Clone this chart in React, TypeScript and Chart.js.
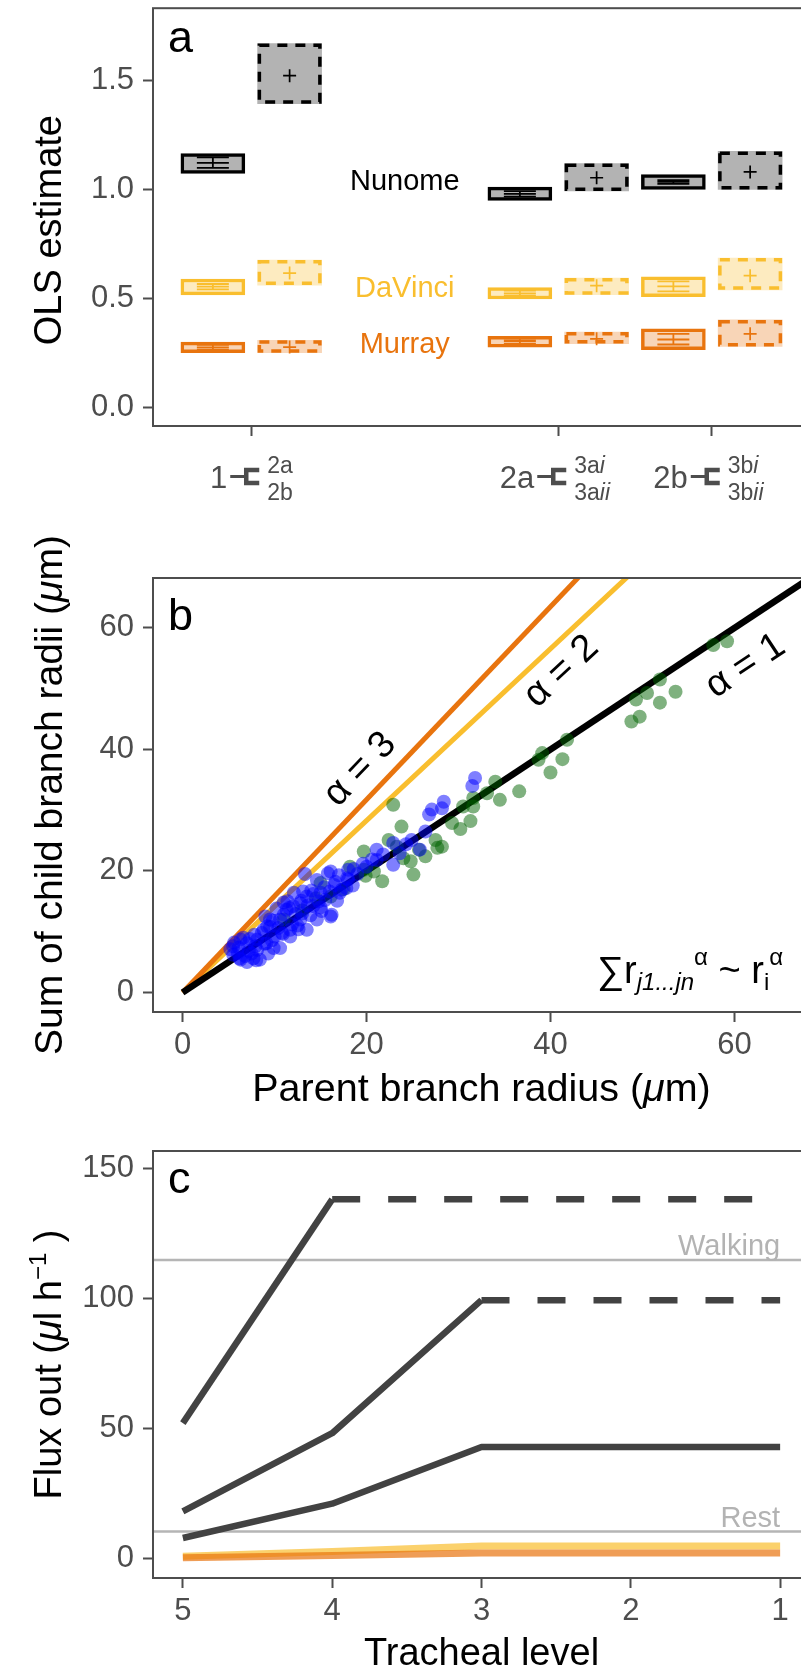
import React, { useEffect, useRef } from 'react';
import { Chart, registerables } from 'chart.js';

Chart.register(...registerables);

const FONT = "'Liberation Sans', Arial, Helvetica, sans-serif";
const TICK_COLOR = '#4D4D4D';
const FRAME_COLOR = '#4D4D4D';
const TICK_SIZE = 31;
const TITLE_SIZE = 38;
const LETTER_SIZE = 45;

// ---------------- Panel a ----------------
const aCategories = [1, 3, 4];
const aYTicks = [0, 0.5, 1.0, 1.5];
const aTickMain = ['1', '2a', '2b'];
const aTickUpper = [['2a', ''], ['3a', 'i'], ['3b', 'i']];
const aTickLower = [['2b', ''], ['3a', 'ii'], ['3b', 'ii']];

const methodNames = ['Nunome', 'DaVinci', 'Murray'];
const methodColors = ['#000000', '#F9BE2E', '#E8740E'];
const methodFills = ['#B3B3B3', '#FDEBC0', '#F8D5B7'];
const methodLabelX = 2;
const methodLabelY = [1.045, 0.555, 0.296];

const nunomeSolidLo = [1.075, 0.951, 1.001];
const nunomeSolidHi = [1.166, 1.012, 1.070];
const nunomeSolidEst = [1.123, 0.981, 1.036];
const nunomeCiLo = [1.100, 0.968, 1.027];
const nunomeCiHi = [1.149, 0.994, 1.044];
const nunomeDashLo = [1.395, 0.994, 1.001];
const nunomeDashHi = [1.672, 1.120, 1.176];
const nunomeDashEst = [1.524, 1.055, 1.082];

const daVinciSolidLo = [0.517, 0.498, 0.509];
const daVinciSolidHi = [0.590, 0.551, 0.600];
const daVinciSolidEst = [0.555, 0.524, 0.556];
const daVinciCiLo = [0.542, 0.513, 0.533];
const daVinciCiHi = [0.567, 0.536, 0.579];
const daVinciDashLo = [0.562, 0.518, 0.540];
const daVinciDashHi = [0.677, 0.594, 0.686];
const daVinciDashEst = [0.617, 0.559, 0.605];

const murraySolidLo = [0.251, 0.277, 0.265];
const murraySolidHi = [0.300, 0.326, 0.361];
const murraySolidEst = [0.276, 0.305, 0.312];
const murrayCiLo = [0.265, 0.293, 0.289];
const murrayCiHi = [0.287, 0.316, 0.338];
const murrayDashLo = [0.251, 0.293, 0.280];
const murrayDashHi = [0.308, 0.346, 0.402];
const murrayDashEst = [0.277, 0.315, 0.338];

// ---------------- Panel b ----------------
const bTicks = [0, 20, 40, 60];
const bGreenX = [57.7, 59.2, 51.9, 50.5, 49.3, 53.6, 51.9, 49.7, 48.8, 41.8, 39.1, 38.7, 41.3, 40.0, 36.6, 34.0, 34.5, 33.1, 31.6, 30.5, 31.3, 30.2, 29.3, 22.9, 23.8, 19.7, 22.4, 23.3, 24.0, 21.7, 25.1, 25.7, 26.4, 27.5, 27.7, 24.8, 31.6, 15.0, 16.1, 20.8, 19.7, 18.2, 19.9, 28.2, 14.5, 13.0, 17.5, 11.0];
const bGreenY = [57.2, 57.8, 51.5, 49.3, 48.2, 49.5, 47.7, 45.4, 44.6, 41.6, 39.4, 38.3, 38.4, 36.2, 33.1, 34.7, 31.7, 32.8, 30.6, 30.6, 28.2, 26.9, 27.9, 30.9, 27.3, 23.2, 25.1, 24.0, 22.1, 18.3, 19.4, 23.5, 22.4, 25.1, 23.8, 21.6, 32.0, 18.0, 15.8, 19.9, 20.2, 20.7, 19.2, 24.0, 15.5, 13.5, 17.0, 12.0];
const bBlueX = [31.8, 31.5, 28.4, 28.2, 27.1, 26.8, 26.4, 24.9, 25.8, 22.9, 21.1, 22.9, 21.1, 20.0, 18.0, 16.1, 13.3, 16.5, 18.0, 17.1, 15.0, 13.5, 12.1, 14.2, 16.1, 15.0, 12.8, 11.3, 10.6, 12.8, 11.7, 9.5, 8.8, 10.0, 8.1, 7.0, 6.3, 5.5, 5.5, 6.3, 7.7, 8.1, 9.9, 10.6, 9.1, 11.7, 13.5, 14.6, 16.2, 8.4, 5.2, 6.0, 7.2, 9.5, 12.5, 14.0, 15.5, 17.8, 19.0, 10.8, 7.8, 11.0, 13.0,
  5.6, 6.1, 6.6, 7.3, 7.9, 8.6, 9.2, 9.8, 10.4, 11.0, 11.6, 12.3, 12.9, 13.6, 14.2, 14.8, 15.4, 16.0, 16.6, 17.3, 17.9, 18.5, 6.8, 7.5, 8.9, 9.7, 10.9, 11.9, 12.6, 13.9, 15.1, 16.8, 9.0, 10.2, 11.4, 12.0, 13.1, 14.6, 15.8, 17.0, 18.6, 19.6, 20.6, 21.8, 23.6, 24.3, 6.2, 7.0, 8.0, 9.3];
const bBlueY = [35.3, 34.0, 31.4, 30.3, 30.1, 29.3, 26.5, 25.1, 23.5, 24.6, 23.5, 21.0, 21.8, 20.7, 20.2, 19.9, 19.5, 17.7, 18.6, 16.4, 16.4, 15.8, 16.4, 14.2, 12.5, 14.0, 14.7, 13.6, 12.0, 12.0, 10.3, 12.0, 10.3, 9.2, 8.7, 8.1, 8.7, 7.6, 6.2, 5.4, 5.6, 7.0, 7.3, 7.3, 8.1, 9.2, 10.3, 12.0, 12.8, 5.4, 7.1, 6.5, 6.8, 10.8, 11.0, 16.8, 15.2, 17.2, 19.5, 9.8, 9.5, 14.8, 13.0,
  8.2, 7.4, 9.0, 8.8, 7.6, 9.8, 10.9, 11.8, 10.6, 12.8, 13.9, 12.9, 15.1, 14.3, 16.2, 15.0, 17.3, 16.6, 18.2, 16.9, 18.8, 17.6, 6.0, 6.4, 8.0, 8.6, 9.6, 11.2, 10.4, 12.7, 13.4, 15.1, 12.5, 13.8, 15.0, 14.2, 16.6, 18.5, 19.6, 19.3, 20.3, 21.2, 21.9, 22.7, 22.9, 24.4, 5.6, 5.0, 5.3, 6.4];
const bAlphas = [1, 2, 3];
const bAlphaColors = ['#000000', '#F9BE2E', '#E8740E'];
const bAlphaWidths = [6.5, 5, 5];
const bLineXEnd = 75;
const bAlphaLabelX = [61.2, 41.2, 19.3];
const bAlphaLabelY = [53.7, 52.8, 36.7];

// ---------------- Panel c ----------------
const cLevels = [5, 4, 3, 2, 1];
const cFluxHigh = [52.2, 138.3, 138.3, 138.3, 138.3];
const cFluxMid = [18.2, 48.3, 99.5, 99.5, 99.5];
const cFluxLow = [8.0, 21.2, 43.0, 43.0, 43.0];
const cFluxDaVinci = [1.0, 2.8, 4.9, 4.9, 4.9];
const cFluxMurray = [0.4, 1.3, 2.2, 2.2, 2.2];
const cDashFrom = [1, 2, -1];
const cYTicks = [0, 50, 100, 150];
const cRefValues = [115, 10.5];
const cRefLabels = ['Walking', 'Rest'];
const cRefLabelX = 1;

// ---------------- helpers ----------------
type Part = { t: string; size: number; italic?: boolean; dy?: number };

function setFont(ctx: CanvasRenderingContext2D, size: number, italic = false) {
  ctx.font = `${italic ? 'italic ' : ''}${size}px ${FONT}`;
}
function partsWidth(ctx: CanvasRenderingContext2D, parts: Part[]) {
  let w = 0;
  for (const p of parts) {
    setFont(ctx, p.size, p.italic);
    w += ctx.measureText(p.t).width;
  }
  return w;
}
function drawParts(ctx: CanvasRenderingContext2D, parts: Part[], x: number, y: number, align: 'left' | 'center' | 'right') {
  const w = partsWidth(ctx, parts);
  let cx = align === 'center' ? x - w / 2 : align === 'right' ? x - w : x;
  ctx.textAlign = 'left';
  ctx.textBaseline = 'alphabetic';
  for (const p of parts) {
    setFont(ctx, p.size, p.italic);
    ctx.fillText(p.t, cx, y + (p.dy || 0));
    cx += ctx.measureText(p.t).width;
  }
}
function drawYTitle(ctx: CanvasRenderingContext2D, parts: Part[], x: number, yCenter: number) {
  ctx.save();
  ctx.translate(x, yCenter);
  ctx.rotate(-Math.PI / 2);
  ctx.fillStyle = '#000';
  drawParts(ctx, parts, 0, 0, 'center');
  ctx.restore();
}
function drawFrame(chart: any) {
  const { ctx, chartArea: a } = chart;
  ctx.save();
  ctx.strokeStyle = FRAME_COLOR;
  ctx.lineWidth = 2;
  ctx.setLineDash([]);
  ctx.strokeRect(a.left, a.top, a.right - a.left, a.bottom - a.top);
  ctx.restore();
}
function drawLetter(chart: any, letter: string, dx: number, dy: number) {
  const { ctx, chartArea: a } = chart;
  ctx.save();
  ctx.fillStyle = '#000';
  setFont(ctx, LETTER_SIZE);
  ctx.textAlign = 'left';
  ctx.textBaseline = 'alphabetic';
  ctx.fillText(letter, a.left + dx, a.top + dy);
  ctx.restore();
}

function axis(min: number, max: number, values: number[], size: number, isY: boolean, opts: any = {}) {
  return {
    type: 'linear',
    min,
    max,
    reverse: !!opts.reverse,
    offset: false,
    grid: {
      display: true,
      drawOnChartArea: false,
      drawTicks: true,
      tickLength: 10,
      tickWidth: 2,
      tickColor: FRAME_COLOR,
      color: FRAME_COLOR,
      offset: false,
    },
    border: { display: false },
    ticks: {
      display: opts.showLabels !== false,
      color: TICK_COLOR,
      font: { family: FONT, size: TICK_SIZE },
      padding: isY ? 9 : 5,
      autoSkip: false,
      maxRotation: 0,
      minRotation: 0,
      callback: opts.fmt || ((v: number) => String(v)),
    },
    afterBuildTicks: (sc: any) => {
      sc.ticks = values.map((v) => ({ value: v }));
    },
    afterFit: (sc: any) => {
      if (isY) sc.width = size;
      else sc.height = size;
      sc.paddingTop = 0;
      sc.paddingBottom = 0;
      sc.paddingLeft = 0;
      sc.paddingRight = 0;
    },
  };
}

const baseOptions = {
  responsive: false,
  animation: false as const,
  devicePixelRatio: 1,
  events: [] as any[],
};

// ---------------- Panel a ----------------
function makePanelA(canvas: HTMLCanvasElement) {
  const dodge = 0.25;
  const solid = [
    { lo: nunomeSolidLo, hi: nunomeSolidHi, est: nunomeSolidEst, ciLo: nunomeCiLo, ciHi: nunomeCiHi },
    { lo: daVinciSolidLo, hi: daVinciSolidHi, est: daVinciSolidEst, ciLo: daVinciCiLo, ciHi: daVinciCiHi },
    { lo: murraySolidLo, hi: murraySolidHi, est: murraySolidEst, ciLo: murrayCiLo, ciHi: murrayCiHi },
  ];
  const dashed = [
    { lo: nunomeDashLo, hi: nunomeDashHi, est: nunomeDashEst },
    { lo: daVinciDashLo, hi: daVinciDashHi, est: daVinciDashEst },
    { lo: murrayDashLo, hi: murrayDashHi, est: murrayDashEst },
  ];
  const datasets: any[] = [];
  solid.forEach((s, m) =>
    datasets.push({
      type: 'bar',
      data: aCategories.map((c, j) => ({ x: c - dodge, y: [s.lo[j], s.hi[j]] })),
      backgroundColor: methodFills[m],
      borderColor: methodColors[m],
      borderWidth: 3.5,
      borderSkipped: false,
      barThickness: 64,
      grouped: false,
      order: 3,
    })
  );
  dashed.forEach((s, m) =>
    datasets.push({
      type: 'bar',
      data: aCategories.map((c, j) => ({ x: c + dodge, y: [s.lo[j], s.hi[j]] })),
      backgroundColor: methodFills[m],
      borderWidth: 0,
      borderSkipped: false,
      barThickness: 64,
      grouped: false,
      order: 3,
      dashedBorder: methodColors[m],
    })
  );
  dashed.forEach((s, m) =>
    datasets.push({
      type: 'scatter',
      data: aCategories.map((c, j) => ({ x: c + dodge, y: s.est[j] })),
      pointStyle: 'cross',
      pointRadius: 6.5,
      borderColor: methodColors[m],
      borderWidth: 1.7,
      order: 0,
    })
  );

  const plugin = {
    id: 'panelA',
    afterDatasetsDraw(chart: any) {
      const { ctx, scales: { x, y } } = chart;
      chart.data.datasets.forEach((ds: any, i: number) => {
        if (!ds.dashedBorder) return;
        const meta = chart.getDatasetMeta(i);
        meta.data.forEach((el: any) => {
          const p = el.getProps(['x', 'y', 'base', 'width'], true);
          const lw = 3.5;
          const top = Math.min(p.y, p.base);
          const bot = Math.max(p.y, p.base);
          ctx.save();
          ctx.strokeStyle = ds.dashedBorder;
          ctx.lineWidth = lw;
          ctx.setLineDash([10, 8]);
          ctx.strokeRect(p.x - p.width / 2 + lw / 2, top + lw / 2, p.width - lw, bot - top - lw);
          ctx.restore();
        });
      });
      solid.forEach((s, m) => {
        aCategories.forEach((c, j) => {
          const cx = x.getPixelForValue(c - dodge);
          const yl = y.getPixelForValue(s.ciLo[j]);
          const yh = y.getPixelForValue(s.ciHi[j]);
          const ye = y.getPixelForValue(s.est[j]);
          ctx.save();
          ctx.strokeStyle = methodColors[m];
          ctx.lineWidth = 1.8;
          ctx.beginPath();
          ctx.moveTo(cx, yl);
          ctx.lineTo(cx, yh);
          for (const yy of [yl, yh, ye]) {
            ctx.moveTo(cx - 16, yy);
            ctx.lineTo(cx + 16, yy);
          }
          ctx.stroke();
          ctx.restore();
        });
      });
    },
    afterDraw(chart: any) {
      const { ctx, chartArea: a, scales: { x, y } } = chart;
      drawFrame(chart);
      methodNames.forEach((name, m) => {
        ctx.save();
        ctx.fillStyle = methodColors[m];
        setFont(ctx, 29);
        ctx.textAlign = 'center';
        ctx.textBaseline = 'alphabetic';
        ctx.fillText(name, x.getPixelForValue(methodLabelX), y.getPixelForValue(methodLabelY[m]) + 0.36 * 29);
        ctx.restore();
      });
      aCategories.forEach((c, i) => {
        const tx = x.getPixelForValue(c);
        const b = a.bottom;
        ctx.save();
        ctx.fillStyle = TICK_COLOR;
        ctx.strokeStyle = TICK_COLOR;
        setFont(ctx, TICK_SIZE);
        ctx.textAlign = 'right';
        ctx.textBaseline = 'alphabetic';
        ctx.fillText(aTickMain[i], tx - 24, b + 62);
        ctx.lineWidth = 3;
        ctx.beginPath();
        ctx.moveTo(tx - 21, b + 50.5);
        ctx.lineTo(tx - 5, b + 50.5);
        ctx.stroke();
        ctx.lineWidth = 4.5;
        ctx.beginPath();
        ctx.moveTo(tx + 8, b + 44);
        ctx.lineTo(tx - 5, b + 44);
        ctx.lineTo(tx - 5, b + 57);
        ctx.lineTo(tx + 8, b + 57);
        ctx.stroke();
        drawParts(ctx, [{ t: aTickUpper[i][0], size: 23 }, { t: aTickUpper[i][1], size: 23, italic: true }], tx + 16, b + 47, 'left');
        drawParts(ctx, [{ t: aTickLower[i][0], size: 23 }, { t: aTickLower[i][1], size: 23, italic: true }], tx + 16, b + 74, 'left');
        ctx.restore();
      });
      drawYTitle(ctx, [{ t: 'OLS estimate', size: TITLE_SIZE }], 61, (a.top + a.bottom) / 2 + 13);
      drawLetter(chart, 'a', 15, 44);
    },
  };

  return new Chart(canvas, {
    type: 'bar',
    data: { datasets },
    options: {
      ...baseOptions,
      layout: { padding: { top: 6, left: 0, right: 20, bottom: 0 } },
      plugins: { legend: { display: false }, tooltip: { enabled: false } },
      scales: {
        x: axis(0.36, 4.64, aCategories, 114, false, { showLabels: false }),
        y: axis(-0.0855, 1.834, aYTicks, 153, true, { fmt: (v: number) => Number(v).toFixed(1) }),
      },
    } as any,
    plugins: [plugin],
  } as any);
}

// ---------------- Panel b ----------------
function makePanelB(canvas: HTMLCanvasElement) {
  const datasets: any[] = [
    {
      type: 'scatter',
      data: bBlueX.map((v, i) => ({ x: v, y: bBlueY[i] })),
      backgroundColor: 'rgba(0,0,255,0.5)',
      borderWidth: 0,
      pointRadius: 7,
      order: 0,
    },
    {
      type: 'scatter',
      data: bGreenX.map((v, i) => ({ x: v, y: bGreenY[i] })),
      backgroundColor: 'rgba(0,100,0,0.5)',
      borderWidth: 0,
      pointRadius: 7,
      order: 1,
    },
  ];
  bAlphas.forEach((al, i) => {
    const ratio = Math.pow(2, 1 - 1 / al);
    datasets.push({
      type: 'line',
      data: [
        { x: 0, y: 0 },
        { x: bLineXEnd, y: bLineXEnd * ratio },
      ],
      borderColor: bAlphaColors[i],
      borderWidth: bAlphaWidths[i],
      pointRadius: 0,
      fill: false,
      clip: 0,
      borderCapStyle: 'butt',
      order: [2, 4, 3][i],
    });
  });

  const plugin = {
    id: 'panelB',
    afterDraw(chart: any) {
      const { ctx, chartArea: a, scales: { x, y } } = chart;
      drawFrame(chart);
      bAlphas.forEach((al, i) => {
        const ratio = Math.pow(2, 1 - 1 / al);
        const x0 = x.getPixelForValue(0);
        const y0 = y.getPixelForValue(0);
        const x1 = x.getPixelForValue(10);
        const y1 = y.getPixelForValue(10 * ratio);
        const ang = Math.atan2(y1 - y0, x1 - x0);
        ctx.save();
        ctx.translate(x.getPixelForValue(bAlphaLabelX[i]), y.getPixelForValue(bAlphaLabelY[i]));
        ctx.rotate(ang);
        ctx.fillStyle = '#000';
        setFont(ctx, TITLE_SIZE);
        ctx.textAlign = 'center';
        ctx.textBaseline = 'middle';
        ctx.fillText(`\u03b1 = ${al}`, 0, 0);
        ctx.restore();
      });
      ctx.save();
      ctx.fillStyle = '#000';
      drawParts(
        ctx,
        [
          { t: '\u2211', size: 38 },
          { t: 'r', size: 38 },
          { t: 'j1...jn', size: 24, italic: true, dy: 7 },
          { t: '\u03b1', size: 24, dy: -18 },
          { t: ' ~ ', size: 38 },
          { t: 'r', size: 38 },
          { t: 'i', size: 24, dy: 7 },
          { t: '\u03b1', size: 24, dy: -18 },
        ],
        a.left + 444,
        a.bottom - 29,
        'left'
      );
      ctx.restore();
      drawYTitle(
        ctx,
        [
          { t: 'Sum of child branch radii (', size: 39 },
          { t: '\u03bc', size: 39, italic: true },
          { t: 'm)', size: 39 },
        ],
        62,
        (a.top + a.bottom) / 2
      );
      ctx.save();
      ctx.fillStyle = '#000';
      drawParts(
        ctx,
        [
          { t: 'Parent branch radius (', size: 39.5 },
          { t: '\u03bc', size: 39.5, italic: true },
          { t: 'm)', size: 39.5 },
        ],
        (a.left + a.right) / 2,
        a.bottom + 89,
        'center'
      );
      ctx.restore();
      drawLetter(chart, 'b', 15, 52);
    },
  };

  return new Chart(canvas, {
    type: 'scatter',
    data: { datasets },
    options: {
      ...baseOptions,
      layout: { padding: { top: 58, left: 0, right: 20, bottom: 0 } },
      plugins: { legend: { display: false }, tooltip: { enabled: false } },
      scales: {
        x: axis(-3.22, 68.22, bTicks, 108, false),
        y: axis(-3.22, 68.22, bTicks, 153, true),
      },
    } as any,
    plugins: [plugin],
  } as any);
}

// ---------------- Panel c ----------------
function makePanelC(canvas: HTMLCanvasElement) {
  const blacks = [cFluxHigh, cFluxMid, cFluxLow];
  const datasets: any[] = [];
  blacks.forEach((vals, k) => {
    const from = cDashFrom[k];
    datasets.push({
      type: 'line',
      data: cLevels.map((l, i) => ({ x: l, y: vals[i] })),
      borderColor: '#424242',
      borderWidth: 6.5,
      pointRadius: 0,
      fill: false,
      tension: 0,
      borderJoinStyle: 'round',
      borderCapStyle: 'butt',
      segment: {
        borderDash: (sc: any) => (from >= 0 && sc.p0DataIndex >= from ? [28, 28] : undefined),
      },
      order: 2,
    });
  });
  datasets.push({
    type: 'line',
    data: cLevels.map((l, i) => ({ x: l, y: cFluxMurray[i] })),
    borderColor: 'rgba(232,116,14,0.7)',
    borderWidth: 7,
    pointRadius: 0,
    fill: false,
    borderJoinStyle: 'round',
    order: 3,
  });
  datasets.push({
    type: 'line',
    data: cLevels.map((l, i) => ({ x: l, y: cFluxDaVinci[i] })),
    borderColor: 'rgba(249,190,46,0.7)',
    borderWidth: 7,
    pointRadius: 0,
    fill: false,
    borderJoinStyle: 'round',
    order: 4,
  });

  const plugin = {
    id: 'panelC',
    beforeDatasetsDraw(chart: any) {
      const { ctx, chartArea: a, scales: { y } } = chart;
      ctx.save();
      ctx.strokeStyle = '#B5B5B5';
      ctx.lineWidth = 2.5;
      cRefValues.forEach((v) => {
        const py = y.getPixelForValue(v);
        ctx.beginPath();
        ctx.moveTo(a.left, py);
        ctx.lineTo(a.right, py);
        ctx.stroke();
      });
      ctx.restore();
    },
    afterDraw(chart: any) {
      const { ctx, chartArea: a, scales: { x, y } } = chart;
      drawFrame(chart);
      ctx.save();
      ctx.fillStyle = '#B3B3B3';
      setFont(ctx, 29);
      ctx.textAlign = 'right';
      ctx.textBaseline = 'alphabetic';
      cRefValues.forEach((v, i) => {
        ctx.fillText(cRefLabels[i], x.getPixelForValue(cRefLabelX), y.getPixelForValue(v) - 4.5);
      });
      ctx.restore();
      drawYTitle(
        ctx,
        [
          { t: 'Flux out (', size: TITLE_SIZE },
          { t: '\u03bc', size: TITLE_SIZE, italic: true },
          { t: 'l h', size: TITLE_SIZE },
          { t: '\u22121', size: 24, dy: -15 },
          { t: ' )', size: TITLE_SIZE },
        ],
        61,
        (a.top + a.bottom) / 2
      );
      ctx.save();
      ctx.fillStyle = '#000';
      drawParts(ctx, [{ t: 'Tracheal level', size: TITLE_SIZE }], (a.left + a.right) / 2, a.bottom + 87, 'center');
      ctx.restore();
      drawLetter(chart, 'c', 15, 42);
    },
  };

  return new Chart(canvas, {
    type: 'line',
    data: { datasets },
    options: {
      ...baseOptions,
      layout: { padding: { top: 41, left: 0, right: 20, bottom: 0 } },
      plugins: { legend: { display: false }, tooltip: { enabled: false } },
      scales: {
        x: axis(0.8, 5.2, cLevels, 102, false, { reverse: true }),
        y: axis(-7.4, 156.9, cYTicks, 153, true),
      },
    } as any,
    plugins: [plugin],
  } as any);
}

export default function App() {
  const refA = useRef<HTMLCanvasElement>(null);
  const refB = useRef<HTMLCanvasElement>(null);
  const refC = useRef<HTMLCanvasElement>(null);

  useEffect(() => {
    const charts = [makePanelA(refA.current!), makePanelB(refB.current!), makePanelC(refC.current!)];
    return () => charts.forEach((c) => c.destroy());
  }, []);

  return (
    <div
      style={{
        position: 'absolute',
        left: 0,
        top: 0,
        width: 801,
        height: 1680,
        overflow: 'hidden',
        background: '#fff',
      }}
    >
      <canvas ref={refA} width={830} height={540} style={{ position: 'absolute', left: 0, top: 0 }} />
      <canvas ref={refB} width={830} height={600} style={{ position: 'absolute', left: 0, top: 520 }} />
      <canvas ref={refC} width={830} height={570} style={{ position: 'absolute', left: 0, top: 1110 }} />
    </div>
  );
}
